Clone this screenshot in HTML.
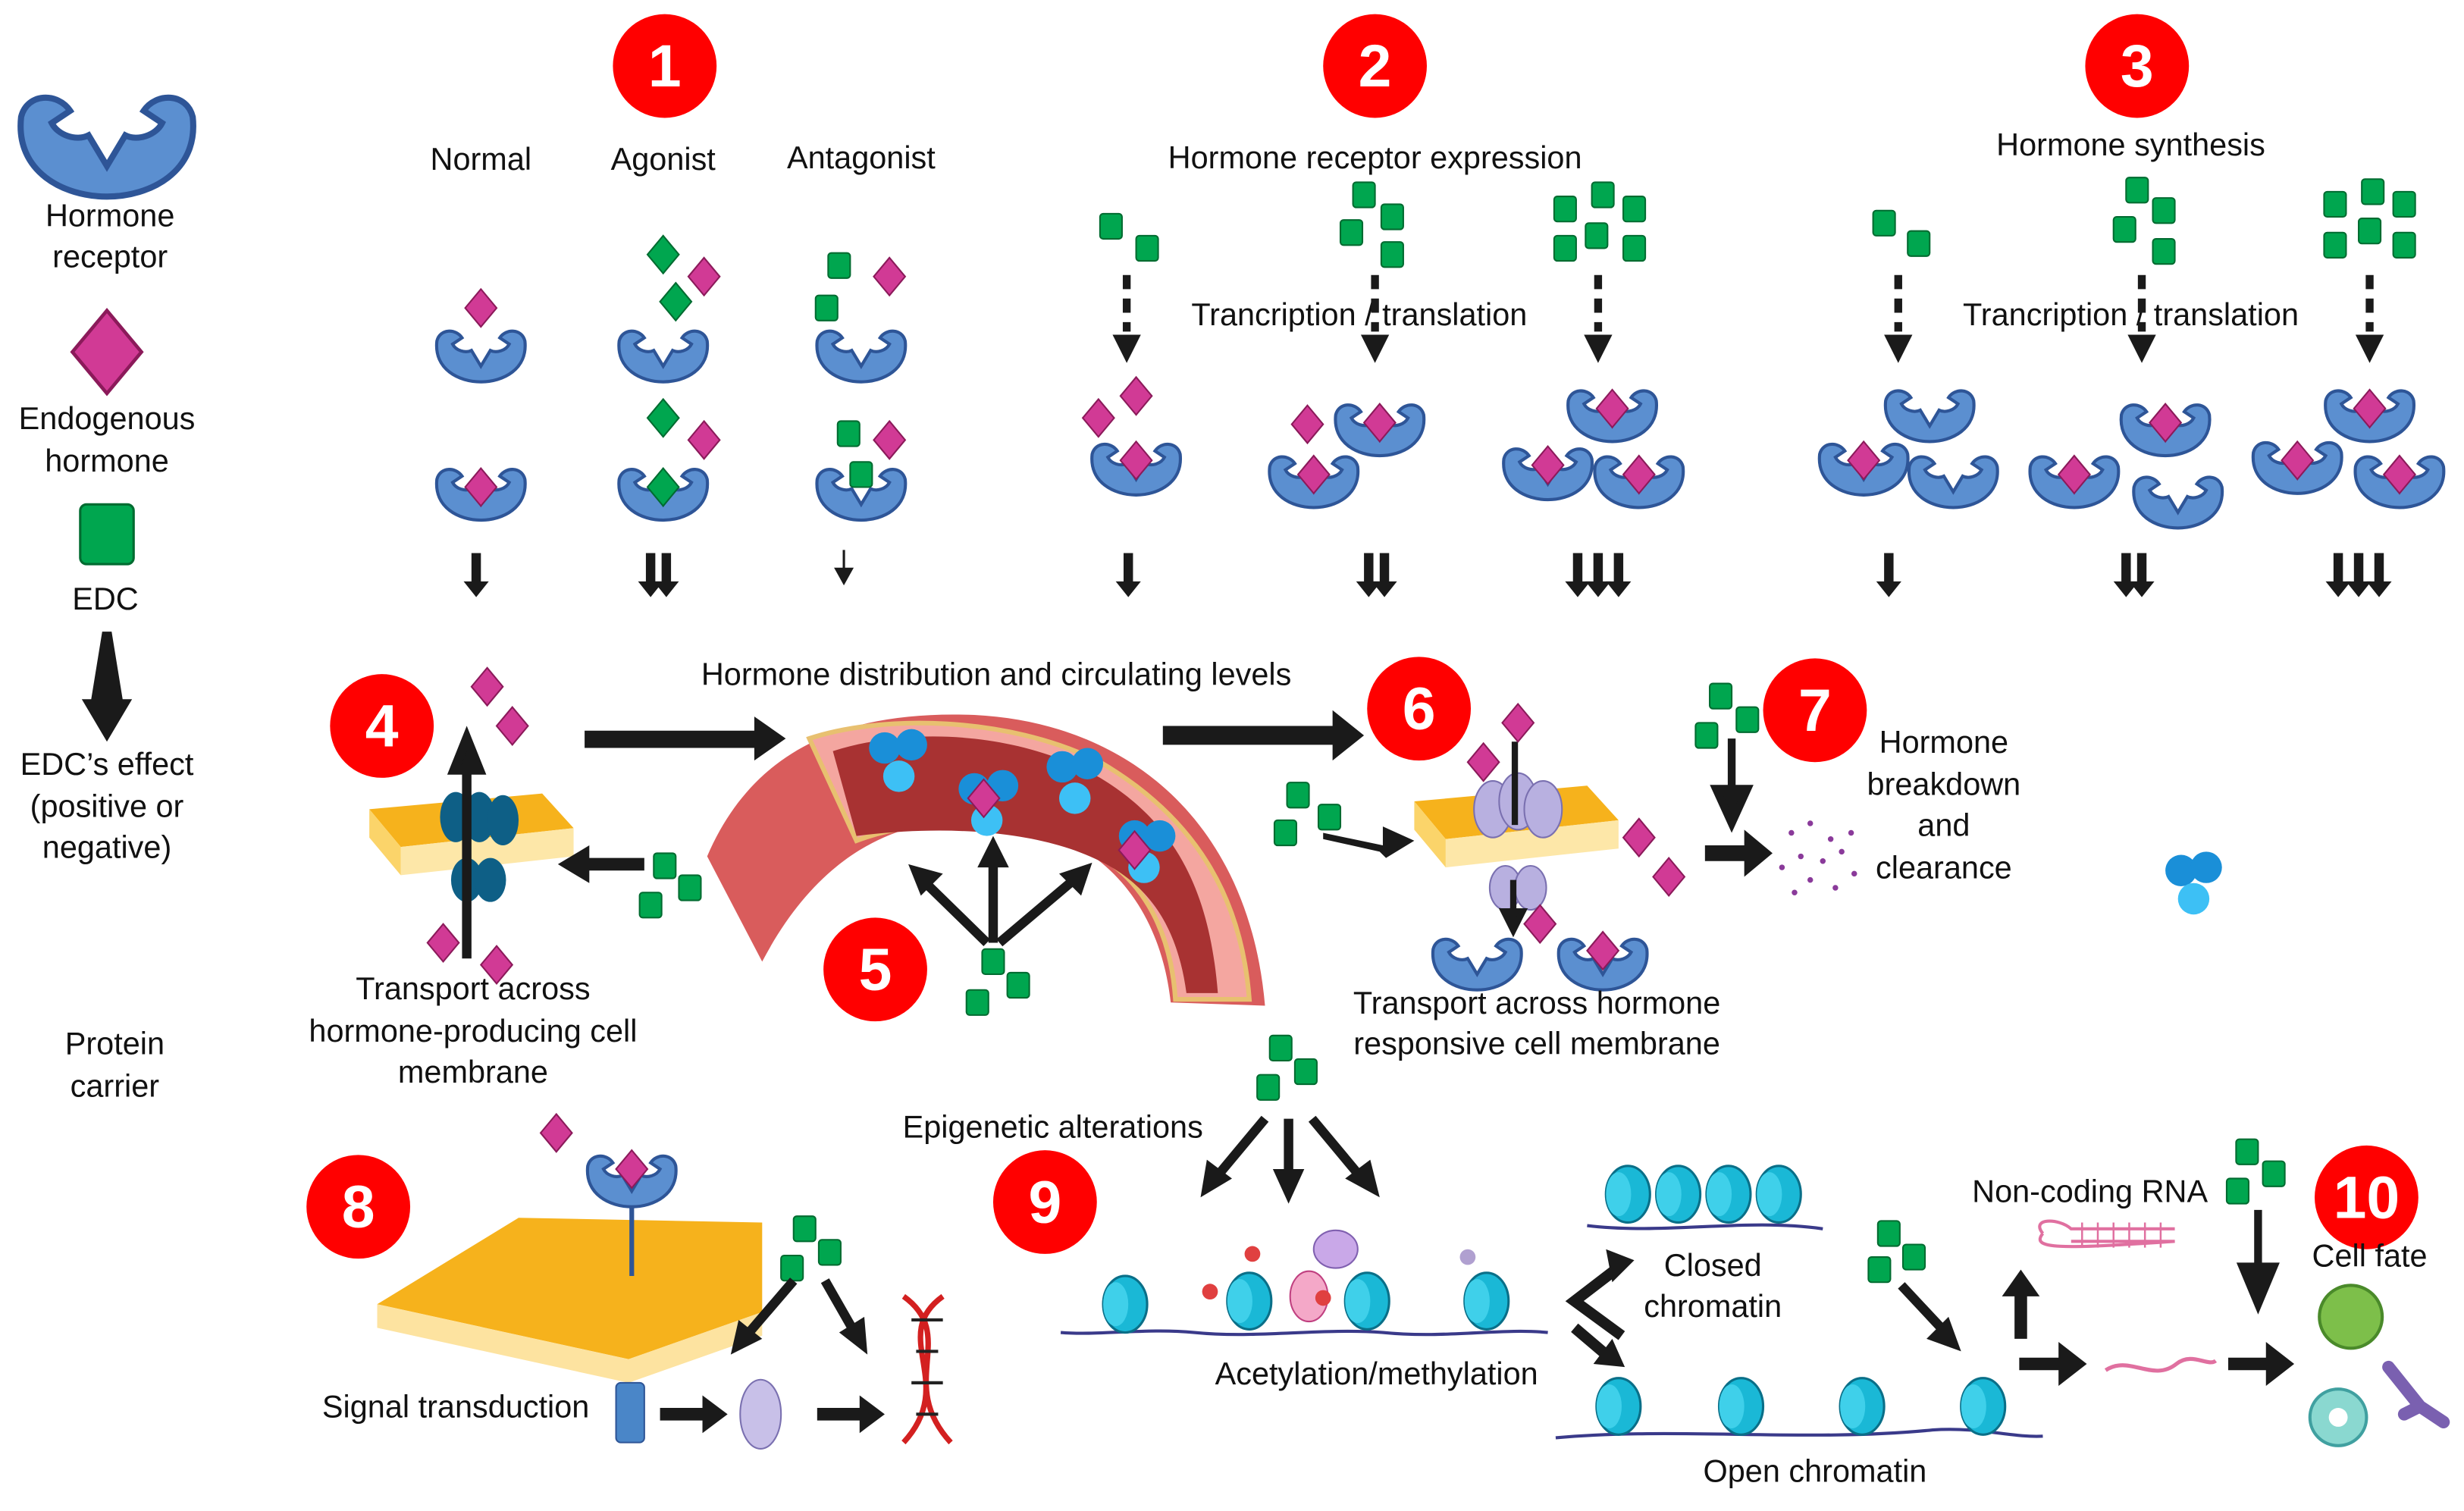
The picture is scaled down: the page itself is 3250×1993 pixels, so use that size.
<!DOCTYPE html>
<html><head><meta charset="utf-8"><style>
html,body{margin:0;padding:0;background:#fff}
svg{display:block}
text{font-family:"Liberation Sans",sans-serif;font-size:20px;fill:#111;text-anchor:middle}
.n{font-size:38px;font-weight:bold;fill:#fff}
</style></head><body>
<svg width="3250" height="1993" viewBox="0 0 1568 961.6" xmlns="http://www.w3.org/2000/svg">
<defs>
<g id="rec"><path d="M-28,-8 C-30,10 -14,18 0,18 C14,18 30,10 28,-8 C26,-16 16,-16 12,-10 L18,-6 C16,-2 10,0 6,-2 L0,8 L-6,-2 C-10,0 -16,-2 -18,-6 L-12,-10 C-16,-16 -26,-16 -28,-8 Z" fill="#5b8fd0" stroke="#2e5597" stroke-width="2"/></g>
<g id="dm"><path d="M0,-12 L10,0 L0,12 L-10,0 Z" fill="#d13a95" stroke="#8b1a5a" stroke-width="1"/></g>
<g id="gd"><path d="M0,-12 L10,0 L0,12 L-10,0 Z" fill="#00a64f" stroke="#006b30" stroke-width="1"/></g>
<g id="sq"><rect x="-7" y="-8" width="14" height="16" rx="2" fill="#00a64f" stroke="#006b30" stroke-width="1"/></g>
<g id="ad"><path d="M-3,-14 L3,-14 L3,4 L8,4 L0,14 L-8,4 L-3,4 Z" fill="#1a1a1a"/></g>
<g id="dash"><path d="M0,-40 L0,-4" stroke="#1a1a1a" stroke-width="5" stroke-dasharray="9,6"/><path d="M-9,-2 L9,-2 L0,16 Z" fill="#1a1a1a"/></g>
<g id="nuc"><ellipse cx="0" cy="0" rx="14" ry="18" fill="#1ab8d6" stroke="#0a6f88" stroke-width="1.5"/><ellipse cx="-6" cy="0" rx="8" ry="14" fill="#3fd0ea"/></g>
<g id="memb"><path d="M0,10 L110,0 L130,22 L20,34 Z" fill="#f6b21c"/><path d="M20,34 L130,22 L130,40 L20,52 Z" fill="#fde7a8"/><path d="M0,10 L20,34 L20,52 L0,28 Z" fill="#fbd46a"/></g>
</defs>

<g fill="#f00">
<circle cx="423" cy="42" r="33"/><circle cx="875" cy="42" r="33"/><circle cx="1360" cy="42" r="33"/>
<circle cx="243" cy="462" r="33"/><circle cx="557" cy="617" r="33"/><circle cx="903" cy="451" r="33"/>
<circle cx="1155" cy="452" r="33"/><circle cx="228" cy="768" r="33"/><circle cx="665" cy="765" r="33"/>
<circle cx="1506" cy="762" r="33"/></g>
<g><text class="n" x="423" y="55">1</text><text class="n" x="875" y="55">2</text><text class="n" x="1360" y="55">3</text>
<text class="n" x="243" y="475">4</text><text class="n" x="557" y="630">5</text><text class="n" x="903" y="464">6</text>
<text class="n" x="1155" y="465">7</text><text class="n" x="228" y="781">8</text><text class="n" x="665" y="778">9</text><text class="n" x="1506" y="775">10</text></g>

<use href="#rec" transform="translate(68,90) scale(1.95)"/>
<text x="70" y="144">Hormone</text><text x="70" y="170">receptor</text>
<use href="#dm" transform="translate(68,224) scale(2.2)"/>
<text x="68" y="273">Endogenous</text><text x="68" y="300">hormone</text>
<rect x="51" y="321" width="34" height="38" rx="4" fill="#00a64f" stroke="#006b30" stroke-width="1.5"/>
<text x="67" y="388">EDC</text>
<path d="M65,402 L71,402 L78,445 L84,445 L68,472 L52,445 L58,445 Z" fill="#1a1a1a"/>
<text x="68" y="493">EDC’s effect</text><text x="68" y="520">(positive or</text><text x="68" y="546">negative)</text>
<text x="73" y="671">Protein</text><text x="73" y="698">carrier</text>

<text x="306" y="108">Normal</text><text x="422" y="108">Agonist</text><text x="548" y="107">Antagonist</text>
<use href="#dm" x="306" y="196"/><use href="#rec" x="306" y="225"/>
<use href="#gd" x="422" y="162"/><use href="#dm" x="448" y="176"/><use href="#gd" x="430" y="192"/><use href="#rec" x="422" y="225"/>
<use href="#sq" x="534" y="169"/><use href="#dm" x="566" y="176"/><use href="#sq" x="526" y="196"/><use href="#rec" x="548" y="225"/>
<use href="#rec" x="306" y="313"/><use href="#dm" x="306" y="310"/>
<use href="#gd" x="422" y="266"/><use href="#dm" x="448" y="280"/><use href="#rec" x="422" y="313"/><use href="#gd" x="422" y="310"/>
<use href="#sq" x="540" y="276"/><use href="#dm" x="566" y="280"/><use href="#rec" x="548" y="313"/><use href="#sq" x="548" y="302"/>
<use href="#ad" x="303" y="366"/>
<use href="#ad" x="414" y="366"/><use href="#ad" x="424" y="366"/>
<path d="M537,350 L537,364 M532,362 L537,371 L542,362 Z" stroke="#1a1a1a" stroke-width="1.5" fill="#1a1a1a"/>

<text x="875" y="107">Hormone receptor expression</text>
<text x="865" y="207">Trancription /  translation</text>
<use href="#sq" x="707" y="144"/><use href="#sq" x="730" y="158"/>
<use href="#dash" x="717" y="215"/>
<use href="#dm" x="723" y="252"/><use href="#dm" x="699" y="266"/><use href="#rec" x="723" y="297"/><use href="#dm" x="723" y="293"/>
<use href="#sq" x="868" y="124"/><use href="#sq" x="886" y="138"/><use href="#sq" x="860" y="148"/><use href="#sq" x="886" y="162"/>
<use href="#dash" x="875" y="215"/>
<use href="#rec" x="878" y="272"/><use href="#dm" x="878" y="269"/><use href="#dm" x="832" y="270"/><use href="#rec" x="836" y="305"/><use href="#dm" x="836" y="302"/>
<use href="#sq" x="996" y="133"/><use href="#sq" x="1020" y="124"/><use href="#sq" x="1040" y="133"/><use href="#sq" x="1016" y="150"/><use href="#sq" x="996" y="158"/><use href="#sq" x="1040" y="158"/>
<use href="#dash" x="1017" y="215"/>
<use href="#rec" x="1026" y="263"/><use href="#dm" x="1026" y="260"/><use href="#rec" x="985" y="300"/><use href="#dm" x="985" y="296"/><use href="#rec" x="1043" y="305"/><use href="#dm" x="1043" y="302"/>
<use href="#ad" x="718" y="366"/>
<use href="#ad" x="871" y="366"/><use href="#ad" x="881" y="366"/>
<use href="#ad" x="1004" y="366"/><use href="#ad" x="1017" y="366"/><use href="#ad" x="1030" y="366"/>

<text x="1356" y="99">Hormone synthesis</text>
<text x="1356" y="207">Trancription /  translation</text>
<use href="#sq" x="1199" y="142"/><use href="#sq" x="1221" y="155"/><use href="#dash" x="1208" y="215"/>
<use href="#rec" x="1228" y="263"/><use href="#rec" x="1186" y="297"/><use href="#dm" x="1186" y="293"/><use href="#rec" x="1243" y="305"/>
<use href="#sq" x="1360" y="121"/><use href="#sq" x="1377" y="134"/><use href="#sq" x="1352" y="146"/><use href="#sq" x="1377" y="160"/><use href="#dash" x="1363" y="215"/>
<use href="#rec" x="1378" y="272"/><use href="#dm" x="1378" y="269"/><use href="#rec" x="1320" y="305"/><use href="#dm" x="1320" y="302"/><use href="#rec" x="1386" y="318"/>
<use href="#sq" x="1486" y="130"/><use href="#sq" x="1510" y="122"/><use href="#sq" x="1530" y="130"/><use href="#sq" x="1508" y="147"/><use href="#sq" x="1486" y="156"/><use href="#sq" x="1530" y="156"/><use href="#dash" x="1508" y="215"/>
<use href="#rec" x="1508" y="263"/><use href="#dm" x="1508" y="260"/><use href="#rec" x="1462" y="296"/><use href="#dm" x="1462" y="293"/><use href="#rec" x="1527" y="305"/><use href="#dm" x="1527" y="302"/>
<use href="#ad" x="1202" y="366"/>
<use href="#ad" x="1353" y="366"/><use href="#ad" x="1363" y="366"/>
<use href="#ad" x="1488" y="366"/><use href="#ad" x="1501" y="366"/><use href="#ad" x="1514" y="366"/>

<text x="634" y="436">Hormone distribution and circulating levels</text>
<path d="M372,465 L480,465 L480,456 L500,470 L480,484 L480,476 L372,476 Z" fill="#1a1a1a"/>
<path d="M740,462 L848,462 L848,452 L868,468 L848,484 L848,474 L740,474 Z" fill="#1a1a1a"/>
<path d="M450,545 C480,475 540,452 620,455 C720,460 795,525 805,640 L745,638 C738,575 700,528 630,522 C570,518 520,545 485,612 Z" fill="#d95c5c"/>
<path d="M515,470 C560,455 640,455 700,485 C760,520 790,570 795,636 L748,636 C745,590 725,555 690,540 C650,522 590,518 545,535 Z" fill="#f4a6a0" stroke="#e8c070" stroke-width="3"/>
<path d="M530,478 C580,462 650,466 700,495 C750,525 770,570 775,632 L755,632 C750,595 735,565 700,548 C660,528 600,525 545,532 Z" fill="#a83232"/>
<g fill="#1a8fd8"><circle cx="563" cy="476" r="10"/><circle cx="580" cy="474" r="10"/><circle cx="572" cy="494" r="10" fill="#3dc0f5"/>
<circle cx="620" cy="502" r="10"/><circle cx="638" cy="500" r="10"/><circle cx="628" cy="522" r="10" fill="#3dc0f5"/>
<circle cx="676" cy="488" r="10"/><circle cx="692" cy="486" r="10"/><circle cx="684" cy="508" r="10" fill="#3dc0f5"/>
<circle cx="722" cy="532" r="10"/><circle cx="738" cy="532" r="10"/><circle cx="728" cy="552" r="10" fill="#3dc0f5"/>
<circle cx="1388" cy="554" r="10"/><circle cx="1404" cy="552" r="10"/><circle cx="1396" cy="572" r="10" fill="#3dc0f5"/></g>
<use href="#dm" x="626" y="508"/><use href="#dm" x="722" y="541"/>
<use href="#memb" x="235" y="505"/>
<g fill="#0e5f86"><ellipse cx="290" cy="520" rx="10" ry="16"/><ellipse cx="305" cy="520" rx="10" ry="16"/><ellipse cx="320" cy="522" rx="10" ry="16"/><ellipse cx="297" cy="560" rx="10" ry="14"/><ellipse cx="312" cy="560" rx="10" ry="14"/></g>
<path d="M297,610 L297,488 M289,490 L297,470 L305,490 Z" stroke="#1a1a1a" stroke-width="6" fill="#1a1a1a"/>
<use href="#dm" x="310" y="437"/><use href="#dm" x="326" y="462"/><use href="#dm" x="282" y="600"/><use href="#dm" x="316" y="614"/>
<path d="M410,546 L375,546 L375,538 L355,550 L375,562 L375,554 L410,554 Z" fill="#1a1a1a"/>
<use href="#sq" x="423" y="551"/><use href="#sq" x="439" y="565"/><use href="#sq" x="414" y="576"/>
<text x="301" y="636">Transport across</text><text x="301" y="663">hormone-producing cell</text><text x="301" y="689">membrane</text>
<path d="M628,600 L585,558 M632,600 L632,540 M636,600 L688,556" stroke="#1a1a1a" stroke-width="6"/>
<path d="M578,550 L600,556 L586,570 Z M632,532 L622,552 L642,552 Z M695,549 L674,556 L688,570 Z" fill="#1a1a1a"/>
<use href="#sq" x="632" y="612"/><use href="#sq" x="648" y="627"/><use href="#sq" x="622" y="638"/>
<use href="#memb" x="900" y="500"/>
<g fill="#b8b0e0" stroke="#7a70b0"><ellipse cx="950" cy="515" rx="12" ry="18"/><ellipse cx="966" cy="510" rx="12" ry="18"/><ellipse cx="982" cy="515" rx="12" ry="18"/><ellipse cx="958" cy="565" rx="10" ry="14"/><ellipse cx="974" cy="565" rx="10" ry="14"/></g>
<path d="M964,472 L964,525 M963,560 L963,585 M957,580 L963,592 L969,580 Z" stroke="#1a1a1a" stroke-width="4" fill="#1a1a1a"/>
<use href="#dm" x="966" y="460"/><use href="#dm" x="944" y="485"/><use href="#dm" x="1043" y="533"/><use href="#dm" x="1062" y="558"/><use href="#dm" x="980" y="588"/>
<use href="#sq" x="826" y="506"/><use href="#sq" x="846" y="520"/><use href="#sq" x="818" y="530"/>
<path d="M842,530 L880,538 L880,526 L900,535 L882,546 L878,542 L842,534 Z" fill="#1a1a1a"/>
<use href="#rec" x="940" y="612"/><use href="#rec" x="1020" y="612"/><use href="#dm" x="1020" y="605"/>
<text x="978" y="645">Transport across hormone</text><text x="978" y="671">responsive cell membrane</text>
<use href="#sq" x="1095" y="443"/><use href="#sq" x="1112" y="458"/><use href="#sq" x="1086" y="468"/>
<path d="M1102,470 L1102,505 M1092,502 L1102,524 L1112,502 Z" stroke="#1a1a1a" stroke-width="5" fill="#1a1a1a"/>
<path d="M1085,538 L1110,538 L1110,528 L1128,543 L1110,558 L1110,548 L1085,548 Z" fill="#1a1a1a"/>
<g fill="#8a3a9a"><circle cx="1140" cy="530" r="1.8"/><circle cx="1152" cy="524" r="1.8"/><circle cx="1165" cy="534" r="1.8"/><circle cx="1146" cy="545" r="1.8"/><circle cx="1160" cy="548" r="1.8"/><circle cx="1172" cy="542" r="1.8"/><circle cx="1134" cy="552" r="1.8"/><circle cx="1152" cy="560" r="1.8"/><circle cx="1168" cy="565" r="1.8"/><circle cx="1180" cy="556" r="1.8"/><circle cx="1142" cy="568" r="1.8"/><circle cx="1178" cy="530" r="1.8"/></g>
<text x="1237" y="479">Hormone</text><text x="1237" y="506">breakdown</text><text x="1237" y="532">and</text><text x="1237" y="559">clearance</text>

<path d="M240,830 L330,775 L485,778 L485,835 L400,865 L240,830 Z" fill="#f6b21c"/>
<path d="M240,830 L400,865 L485,835 L485,850 L400,880 L240,845 Z" fill="#fde3a0"/>
<use href="#dm" x="354" y="721"/>
<line x1="402" y1="755" x2="402" y2="812" stroke="#2e5597" stroke-width="3"/>
<use href="#rec" x="402" y="750"/><use href="#dm" x="402" y="744"/>
<rect x="392" y="880" width="18" height="38" rx="3" fill="#4a86c8" stroke="#2e5597"/>
<text x="290" y="902">Signal transduction</text>
<path d="M420,896 L447,896 L447,888 L463,900 L447,912 L447,904 L420,904 Z" fill="#1a1a1a"/>
<ellipse cx="484" cy="900" rx="13" ry="22" fill="#c8c0e8" stroke="#7a70b0"/>
<path d="M520,896 L547,896 L547,888 L563,900 L547,912 L547,904 L520,904 Z" fill="#1a1a1a"/>
<path d="M575,825 C610,850 570,880 605,918 M600,825 C565,850 610,880 575,918" stroke="#d32020" stroke-width="3.5" fill="none"/>
<path d="M580,840 L600,840 M583,860 L597,860 M580,880 L600,880 M583,900 L597,900" stroke="#222" stroke-width="2"/>
<use href="#sq" x="512" y="782"/><use href="#sq" x="528" y="797"/><use href="#sq" x="504" y="807"/>
<path d="M505,815 L475,850 M525,815 L545,850" stroke="#1a1a1a" stroke-width="6"/>
<path d="M465,862 L470,840 L485,852 Z M552,862 L534,848 L550,838 Z" fill="#1a1a1a"/>
<use href="#sq" x="815" y="667"/><use href="#sq" x="831" y="682"/><use href="#sq" x="807" y="692"/>
<text x="670" y="724">Epigenetic alterations</text>
<path d="M805,712 L775,748 M820,712 L820,752 M835,712 L865,748" stroke="#1a1a1a" stroke-width="6"/>
<path d="M764,762 L768,738 L784,750 Z M820,766 L810,744 L830,744 Z M878,762 L856,750 L872,738 Z" fill="#1a1a1a"/>
<path d="M675,848 C700,850 730,845 760,848 C800,852 840,845 880,848 C920,852 955,845 985,848" stroke="#3a3a8a" stroke-width="2" fill="none"/>
<use href="#nuc" x="716" y="830"/><use href="#nuc" x="795" y="828"/><use href="#nuc" x="870" y="828"/><use href="#nuc" x="946" y="828"/>
<ellipse cx="850" cy="795" rx="14" ry="12" fill="#c9a8e8" stroke="#8060b0"/><ellipse cx="833" cy="825" rx="12" ry="16" fill="#f4a8c8" stroke="#c04080"/>
<circle cx="770" cy="822" r="5" fill="#e04040"/><circle cx="797" cy="798" r="5" fill="#e04040"/><circle cx="842" cy="826" r="5" fill="#e04040"/><circle cx="934" cy="800" r="5" fill="#b0a0d0"/>
<text x="876" y="881">Acetylation/methylation</text>
<path d="M1032,805 L1002,828 L1032,850 M1002,845 L1022,862" stroke="#1a1a1a" stroke-width="7" fill="none"/>
<path d="M1022,795 L1040,802 L1026,816 Z M1034,870 L1014,868 L1026,852 Z" fill="#1a1a1a"/>
<path d="M1010,780 C1060,786 1110,775 1160,782" stroke="#3a3a8a" stroke-width="2" fill="none"/>
<use href="#nuc" x="1036" y="760"/><use href="#nuc" x="1068" y="760"/><use href="#nuc" x="1100" y="760"/><use href="#nuc" x="1132" y="760"/>
<text x="1090" y="812">Closed</text><text x="1090" y="838">chromatin</text>
<path d="M990,915 C1070,908 1150,918 1230,910 C1260,908 1280,915 1300,914" stroke="#3a3a8a" stroke-width="2" fill="none"/>
<use href="#nuc" x="1030" y="895"/><use href="#nuc" x="1108" y="895"/><use href="#nuc" x="1185" y="895"/><use href="#nuc" x="1262" y="895"/>
<text x="1155" y="943">Open chromatin</text>
<use href="#sq" x="1202" y="785"/><use href="#sq" x="1218" y="800"/><use href="#sq" x="1196" y="808"/>
<path d="M1210,818 L1238,848" stroke="#1a1a1a" stroke-width="6"/><path d="M1248,860 L1226,852 L1240,838 Z" fill="#1a1a1a"/>
<path d="M1282,852 L1282,825 L1274,825 L1286,808 L1298,825 L1290,825 L1290,852 Z" fill="#1a1a1a"/>
<text x="1330" y="765">Non-coding RNA</text>
<path d="M1300,785 C1292,775 1310,775 1318,782 L1384,782 M1318,790 L1384,790 C1310,795 1292,795 1300,785" stroke="#e070a0" stroke-width="2" fill="none"/>
<path d="M1325,778 L1325,794 M1335,778 L1335,794 M1345,778 L1345,794 M1355,778 L1355,794 M1365,778 L1365,794 M1375,778 L1375,794" stroke="#e070a0" stroke-width="1.2"/>
<path d="M1285,864 L1310,864 L1310,854 L1328,868 L1310,882 L1310,872 L1285,872 Z" fill="#1a1a1a"/>
<path d="M1340,872 C1355,862 1370,880 1385,868 C1395,860 1405,870 1410,866" stroke="#e070a0" stroke-width="2.5" fill="none"/>
<path d="M1418,864 L1442,864 L1442,854 L1460,868 L1442,882 L1442,872 L1418,872 Z" fill="#1a1a1a"/>
<use href="#sq" x="1430" y="733"/><use href="#sq" x="1447" y="747"/><use href="#sq" x="1424" y="758"/>
<path d="M1437,770 L1437,808 M1427,806 L1437,830 L1447,806 Z" stroke="#1a1a1a" stroke-width="5" fill="#1a1a1a"/>
<text x="1508" y="806">Cell fate</text>
<circle cx="1496" cy="838" r="20" fill="#7dbf4a" stroke="#4a8a2a" stroke-width="2"/>
<circle cx="1488" cy="902" r="18" fill="#8ad8d0" stroke="#40a0a0" stroke-width="2"/><circle cx="1488" cy="902" r="6" fill="#fff"/>
<path d="M1520,870 L1540,895 M1540,895 L1555,905 M1540,895 L1530,900" stroke="#7a60b0" stroke-width="8" stroke-linecap="round"/>
</svg>
</body></html>
